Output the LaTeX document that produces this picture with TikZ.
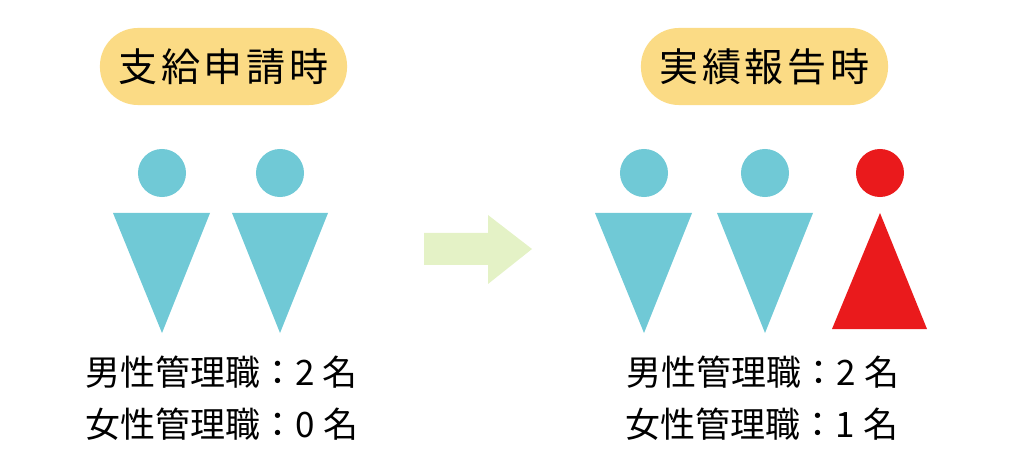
\documentclass[tikz,border=0pt]{standalone}
\usepackage{fontspec}
\setmainfont{Noto Sans CJK JP}
\newfontfamily\headfont[LetterSpace=10]{Noto Sans CJK JP}
\definecolor{pillyellow}{HTML}{FBDB85}
\definecolor{maleblue}{HTML}{70C9D6}
\definecolor{femalered}{HTML}{EA1A1C}
\definecolor{arrowgreen}{HTML}{E4F2C6}
\begin{document}
\begin{tikzpicture}[
    x=0.01cm, y=-0.01cm,
    pill/.style={rectangle, rounded corners=0.38cm, fill=pillyellow, minimum width=2.47cm, minimum height=0.77cm, inner sep=0pt, font=\fontsize{11.1pt}{13pt}\headfont},
    head/.style={circle, minimum size=0.48cm, inner sep=0pt},
    malehead/.style={head, fill=maleblue},
    femalehead/.style={head, fill=femalered},
    count/.style={inner sep=0pt, font=\fontsize{9.95pt}{12pt}\selectfont}
  ]
  \useasboundingbox (0,0) rectangle (1024,476);

  % Headings
  \node[pill] (before) at (223.5,66.5) {支給申請時};
  \node[pill] (after) at (764.5,66.5) {実績報告時};

  % Left group
  \node[malehead] (m1) at (162,173) {};
  \node[malehead] (m2) at (280,173) {};
  \fill[maleblue] (113,213) -- (210,213) -- (162,333) -- cycle;
  \fill[maleblue] (232,213) -- (328,213) -- (280,333) -- cycle;

  % Right group
  \node[malehead] (m3) at (644,173) {};
  \node[malehead] (m4) at (765,173) {};
  \node[femalehead] (f1) at (880,173) {};
  \fill[maleblue] (595,213) -- (692,213) -- (644,333) -- cycle;
  \fill[maleblue] (717,213) -- (813,213) -- (765,333) -- cycle;
  \fill[femalered] (880,213) -- (927,329) -- (832,329) -- cycle;

  % Arrow between the groups
  \fill[arrowgreen] (424,233) -- (488,233) -- (488,215) -- (532,249) -- (488,284) -- (488,265) -- (424,265) -- cycle;

  % Counts
  \node[count] (c1) at (221.5,372) {男性管理職^^^^ff1a2 名};
  \node[count] (c2) at (222,424) {女性管理職^^^^ff1a0 名};
  \node[count] (c3) at (763,372) {男性管理職^^^^ff1a2 名};
  \node[count] (c4) at (762,424) {女性管理職^^^^ff1a1 名};

\end{tikzpicture}
\end{document}
